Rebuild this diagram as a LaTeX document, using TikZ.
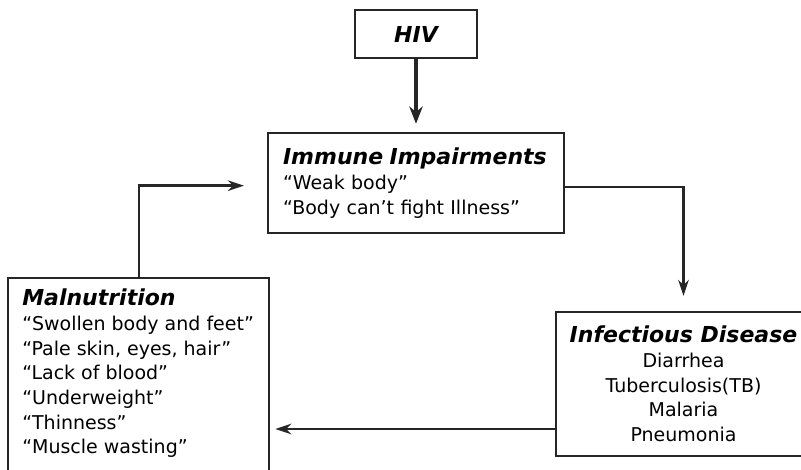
\documentclass[tikz,border=0pt]{standalone}
\usepackage{fontspec}
\setmainfont{DejaVu Sans}
\usetikzlibrary{arrows.meta,calc}
\tikzset{
  box/.style={draw=black!85, line width=1.8pt, rectangle, inner sep=0pt},
  ttl/.style={font=\fontsize{16.5pt}{18.5pt}\selectfont\bfseries\itshape},
  body/.style={font=\fontsize{14.25pt}{18.5pt}\selectfont},
  arr/.style={draw=black!85, line width=1.8pt, -{Stealth[length=12pt,width=8pt]}},
}
\newcommand{\ttlfont}{\fontsize{16.5pt}{18.5pt}\selectfont\bfseries\itshape}
\begin{document}
\begin{tikzpicture}[x=0.75pt,y=-0.75pt]
\useasboundingbox (0,0) rectangle (801,470);
\clip (0,0) rectangle (801,470);
\fill[white] (0,0) rectangle (801,470);

% HIV
\node[box, ttl, minimum width=91.5pt, minimum height=36pt] (hiv) at (416,34) {HIV};

% Immune Impairments
\node[box, body, minimum width=222pt, minimum height=75pt, text width=199.5pt,
      inner xsep=11.25pt, align=left] (imm) at (416,183)
  {{\ttlfont Immune Impairments}\\
   “Weak body”\\
   “Body can't fight Illness”};

% Infectious Disease
\node[box, body, minimum width=191.25pt, minimum height=108pt, align=center] (inf) at (683.5,384)
  {{\ttlfont Infectious Disease}\\
   Diarrhea\\
   Tuberculosis(TB)\\
   Malaria\\
   Pneumonia};

% Malnutrition box and its text
\node[box, anchor=north west, minimum width=195.75pt, minimum height=165pt] (mal) at (7,277) {};
\node[body, anchor=north west, inner sep=0pt, align=left] (maltext) at ($(mal.north west)+(15,12)$)
  {{\ttlfont Malnutrition}\\
   “Swollen body and feet”\\
   “Pale skin, eyes, hair”\\
   “Lack of blood”\\
   “Underweight”\\
   “Thinness”\\
   “Muscle wasting”};

% connectors
\draw[arr, line width=3.2pt, -{Stealth[length=13pt,width=10pt]}, shorten >=6pt] (hiv.south) -- (imm.north);
\draw[arr, shorten >=11.25pt] ([yshift=-3pt]imm.east) -| (inf.north);
\draw[arr, shorten >=3.75pt] ([yshift=-33.75pt]inf.west) coordinate (a) -- (a -| mal.east);
\draw[arr, shorten >=17.25pt] (mal.north) |- ([yshift=-2pt]imm.west);
\end{tikzpicture}
\end{document}
